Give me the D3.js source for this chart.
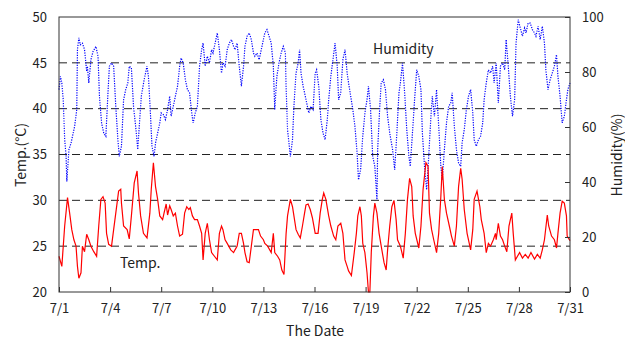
<!DOCTYPE html>
<html lang="ja">
<head>
<meta charset="UTF-8">
<title>Temp / Humidity</title>
<script src="https://d3js.org/d3.v7.min.js"></script>
<style>
  body { margin: 0; background: #fff; }
  text { font-family: "Noto Sans CJK JP", "DejaVu Sans", sans-serif; fill: #222; }
</style>
</head>
<body>
<script>
// hours since 7/1 00:00
const tempHours = [0,4,8,12,15,18,21,24,26,28,31,33,36,39,42,45,49,53,56,59,62,65,67,70,74,77,80,84,87,88,91,96,99,102,106,110,112,115,119,124,128,130,133,136,139,142,146,148,151,153,156,158,161,164,167,170,174,177,180,183,185,188,191,195,198,201,203,206,209,212,215,219,223,226,229,231,234,237,242,246,248,251,254,257,260,262,265,268,271,274,276,281,284,288,290,294,299,302,304,308,311,314,317,320,322,326,329,331,334,337,340,343,346,348,351,354,357,361,365,368,371,373,376,380,383,387,390,393,397,400,403,406,408,412,416,419,421,424,426,428,431,434,436,438,440,443,445,448,451,454,458,461,463,466,469,472,475,477,481,485,488,491,494,497,499,502,507,510,513,517,520,522,525,528,532,535,538,540,543,546,550,553,557,560,563,566,568,571,575,580,583,585,589,593,595,599,602,605,608,612,615,616,619,622,625,628,631,634,638,640,643,646,649,653,657,661,665,670,674,678,681,684,688,690,694,698,701,703,706,709,712,715,716,720];
const tempValues = [23.9,22.8,27.2,30.3,28.6,26.8,25.7,25.0,22.8,21.5,22.1,25.0,24.4,26.3,25.7,25.0,24.4,23.9,27.2,30.1,30.4,29.7,26.4,25.2,25.0,26.8,28.6,31.0,31.2,29.7,27.2,26.8,25.8,28.3,31.9,33.2,30.8,28.3,26.4,25.9,28.6,31.2,34.1,31.5,30.1,28.3,27.9,28.6,29.6,28.4,29.4,29.0,28.3,28.6,27.2,26.1,26.3,28.6,29.3,29.0,29.2,28.3,27.9,27.9,27.2,26.4,23.5,26.4,27.5,25.7,24.3,23.9,23.5,26.4,27.2,26.8,25.7,25.3,24.6,24.3,24.6,25.0,26.4,26.4,25.3,24.3,23.3,23.2,25.0,26.8,26.8,26.8,26.1,25.7,25.3,25.0,24.3,26.4,24.3,23.9,23.5,22.4,21.9,26.4,28.3,30.1,29.3,28.3,26.8,26.3,25.9,27.2,28.6,29.5,29.6,29.0,28.1,26.4,26.4,28.6,30.1,30.8,30.1,28.3,27.2,26.1,25.7,27.2,27.5,26.4,23.5,22.8,22.3,21.8,24.3,26.4,28.3,29.3,28.3,25.3,24.3,22.1,20.0,20.0,24.3,28.3,29.7,28.6,26.4,25.0,23.2,22.4,24.6,27.2,29.3,30.0,27.9,25.7,25.0,23.7,26.4,30.1,32.4,31.5,28.3,26.4,24.8,27.2,31.2,34.1,33.7,28.6,26.8,25.7,24.3,26.4,30.4,33.7,30.1,28.6,27.2,26.1,25.0,27.2,31.5,33.5,32.3,29.0,26.4,24.6,26.8,30.1,31.0,29.3,27.9,26.4,24.3,25.3,25.0,25.7,26.4,25.7,27.5,26.1,25.7,25.0,24.4,27.2,28.6,26.4,23.5,23.9,24.3,23.7,24.1,23.7,24.3,23.6,24.1,23.7,24.6,25.7,28.4,27.2,26.1,25.7,24.8,26.4,28.6,29.9,29.7,28.3,26.1,25.6];

const humHours = [0,2,4,6,8,10,11,14,17,20,22,25,26,28,30,33,36,39,40,42,45,48,52,55,57,60,63,66,69,71,74,77,80,83,85,88,91,94,97,99,102,105,108,111,114,116,120,124,126,129,131,134,136,139,142,144,147,150,153,156,158,161,164,167,170,172,175,178,181,184,187,189,192,195,198,201,203,206,209,212,215,217,220,223,226,229,231,234,237,240,243,246,248,251,254,257,260,262,265,268,271,274,276,279,282,285,288,290,293,296,299,302,304,307,310,313,316,319,320,322,326,329,331,334,337,339,341,344,347,349,352,355,358,361,363,366,369,372,375,378,380,383,386,389,392,394,397,400,403,406,408,411,414,417,420,422,425,428,431,434,436,439,442,445,448,449,452,454,457,460,463,466,470,473,476,479,481,484,487,490,493,495,498,501,504,507,510,512,515,518,521,524,526,529,532,535,538,540,543,546,549,552,554,557,560,563,566,568,571,574,577,580,583,585,588,591,594,597,599,602,605,608,611,613,616,619,622,625,628,630,633,636,639,642,644,647,650,653,656,658,661,664,667,670,672,675,678,681,684,686,689,692,695,698,701,703,706,709,712,715,717,720];
const humValues = [73.6,78.4,76.0,69.9,55.4,49.3,40.2,51.8,54.2,57.8,60.2,66.3,88.1,92.4,89.9,90.5,88.1,80.2,82.1,76.0,84.5,87.5,89.3,85.7,71.2,61.5,57.8,56.6,72.4,82.1,83.3,82.1,67.5,55.4,49.3,53.0,69.9,73.6,76.0,82.1,81.5,67.5,60.2,51.8,63.9,71.2,77.2,82.1,78.4,63.9,53.0,49.3,54.2,57.8,61.5,65.1,64.5,62.7,66.3,71.2,63.9,67.5,71.2,74.8,82.1,85.1,83.3,77.2,73.6,72.4,65.1,61.5,65.1,67.5,82.1,88.1,90.5,82.1,85.7,83.3,88.1,86.9,90.5,94.2,88.1,79.6,83.3,82.1,88.1,90.5,91.8,89.3,88.1,90.5,82.1,74.8,82.1,89.3,93.0,94.2,91.8,86.9,85.7,86.9,84.5,88.1,91.8,94.2,95.4,93.0,90.5,82.1,66.3,78.4,83.3,86.9,89.3,86.9,74.8,59.0,49.3,55.4,67.5,79.6,83.3,88.1,79.6,74.8,71.2,68.7,65.1,67.5,66.3,79.6,80.8,74.8,62.7,57.8,55.4,62.7,69.9,78.4,84.5,90.5,82.1,69.9,72.4,84.5,88.1,79.6,76.0,71.2,66.3,60.2,50.5,40.8,44.5,56.6,65.1,69.9,74.8,66.3,49.3,45.7,33.6,51.8,67.5,76.0,77.2,73.6,63.9,57.8,51.8,44.5,57.8,72.4,76.0,83.3,72.4,59.0,49.3,45.7,57.8,69.9,80.8,78.4,73.6,57.8,45.7,37.2,49.3,63.9,71.2,63.9,73.6,60.2,45.7,40.8,51.8,61.5,67.5,68.7,72.4,60.2,51.8,46.9,45.7,54.2,59.0,66.3,71.2,73.6,65.1,55.4,53.0,55.4,56.6,61.5,69.9,76.0,80.8,79.6,82.1,76.0,83.3,68.7,82.1,83.3,80.8,91.8,82.1,71.2,63.9,69.9,90.5,99.0,96.0,93.0,96.0,94.2,97.8,97.8,95.4,94.2,93.0,96.6,91.8,96.6,90.5,80.8,73.6,77.2,79.6,82.1,86.3,78.4,71.2,61.5,63.9,69.9,73.6,76.0];

const dayTicks = [1,4,7,10,13,16,19,22,25,28,31];
const tempTicks = [20,25,30,35,40,45,50];
const humTicks = [0,20,40,60,80,100];

const W = 625, H = 342;
const m = {left: 59, right: 55, top: 17, bottom: 50};
const iw = W - m.left - m.right, ih = H - m.top - m.bottom;

const svg = d3.select("body").append("svg").attr("width", W).attr("height", H);
const g = svg.append("g").attr("transform", `translate(${m.left},${m.top})`);

const x = d3.scaleLinear().domain([0, 720]).range([0, iw]);
const yT = d3.scaleLinear().domain([20, 50]).range([ih, 0]);
const yH = d3.scaleLinear().domain([0, 100]).range([ih, 0]);

// dashed grid at the temperature ticks
g.selectAll("line.grid")
  .data(tempTicks.filter(d => d > 20 && d < 50))
  .enter().append("line")
  .attr("x1", 0).attr("x2", iw)
  .attr("y1", d => yT(d)).attr("y2", d => yT(d))
  .attr("stroke", "#222").attr("stroke-width", 1)
  .attr("stroke-dasharray", "8,5");

// series
const tempLine = d3.line().x((d, i) => x(tempHours[i])).y(d => yT(d));
const humLine = d3.line().x((d, i) => x(humHours[i])).y(d => yH(d));

g.append("path").datum(humValues)
  .attr("d", humLine)
  .attr("fill", "none").attr("stroke", "#0000ff")
  .attr("stroke-width", 1.2).attr("stroke-dasharray", "1.2,1.3");

g.append("path").datum(tempValues)
  .attr("d", tempLine)
  .attr("fill", "none").attr("stroke", "#ff0000")
  .attr("stroke-width", 1.2);

// frame
g.append("rect").attr("width", iw).attr("height", ih)
  .attr("fill", "none").attr("stroke", "#333").attr("stroke-width", 1);

// axes
const xAxis = d3.axisBottom(x)
  .tickValues(dayTicks.map(d => (d - 1) * 24))
  .tickFormat(h => "7/" + (h / 24 + 1))
  .tickSizeInner(-5).tickSizeOuter(0).tickPadding(12);
const leftAxis = d3.axisLeft(yT).tickValues(tempTicks).tickSizeInner(0).tickSizeOuter(0).tickPadding(12);
const rightAxis = d3.axisRight(yH).tickValues(humTicks).tickSizeInner(-5).tickSizeOuter(0).tickPadding(12);

function style(sel) {
  sel.select(".domain").remove();
  sel.selectAll(".tick line").attr("stroke", "#333");
  sel.selectAll("text").attr("font-size", 13).attr("fill", "#222")
    .style("font-family", '"Noto Sans CJK JP", "DejaVu Sans", sans-serif');
}
g.append("g").attr("transform", `translate(0,${ih})`).call(xAxis).call(style);
g.append("g").call(leftAxis).call(style);
g.append("g").attr("transform", `translate(${iw},0)`).call(rightAxis).call(style);

// titles
svg.append("text").attr("x", 315).attr("y", 336).attr("text-anchor", "middle")
  .attr("font-size", 14).text("The Date");
svg.append("text").attr("transform", "translate(26,155) rotate(-90)")
  .attr("text-anchor", "middle").attr("font-size", 14).text("Temp.(°C)");
svg.append("text").attr("transform", "translate(622,155) rotate(-90)")
  .attr("text-anchor", "middle").attr("font-size", 14).text("Humidity(%)");

// in-plot labels
g.append("text").attr("x", 373 - m.left).attr("y", 54 - m.top)
  .attr("font-size", 14).text("Humidity");
g.append("text").attr("x", 120 - m.left).attr("y", 268 - m.top)
  .attr("font-size", 14).text("Temp.");
</script>
</body>
</html>
